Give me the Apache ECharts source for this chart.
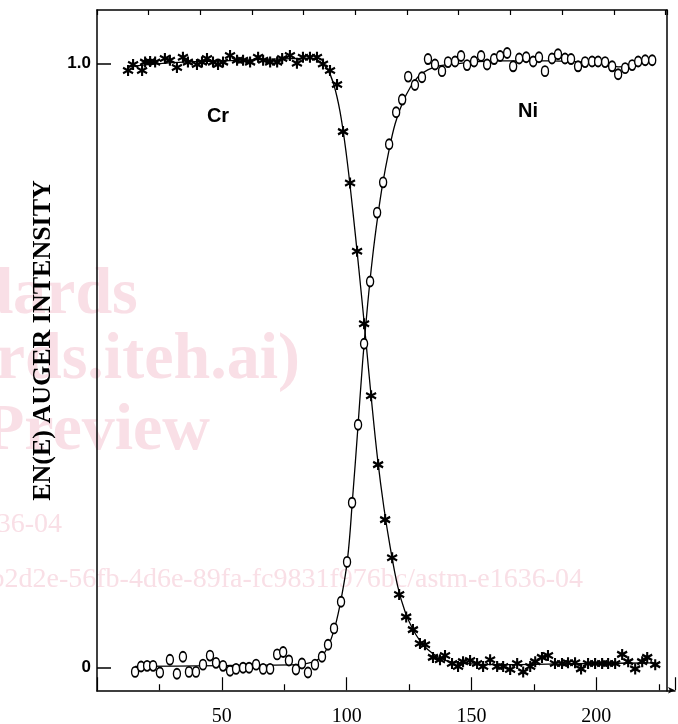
<!DOCTYPE html>
<html>
<head>
<meta charset="utf-8">
<script src="https://cdn.jsdelivr.net/npm/echarts@6/dist/echarts.min.js"></script>
<style>html,body{margin:0;padding:0;background:#fff}#c{width:678px;height:724px}</style>
</head>
<body>
<div id="c"></div>
<script>
// ---- data ----
var crX = [12.4,14.4,18.0,19.2,21.2,23.2,27.1,29.1,31.9,34.3,36.3,39.9,41.9,43.9,46.3,48.3,50.3,53.1,55.9,58.3,61.1,64.3,66.3,69.1,71.9,73.9,77.0,79.8,82.2,85.0,87.8,
  90.2,93.0,95.8,98.2,101.0,103.8,106.6,109.4,112.2,115.0,117.8,120.6,123.4,126.1,128.9,130.9,134.1,136.9,138.9,141.7,144.1,146.1,148.9,151.7,154.1,
  156.9,159.7,162.1,164.9,167.7,170.1,172.9,174.9,177.6,180.0,182.8,185.6,188.0,190.8,193.2,196.0,198.8,201.6,204.0,206.8,209.6,212.0,214.8,217.6,219.6,222.8];
var crY = [0.988,0.998,0.988,1.002,1.003,1.002,1.008,1.005,0.993,1.010,1.002,0.998,1.002,1.008,1.002,0.998,1.002,1.013,1.005,1.005,1.002,1.010,1.005,1.002,1.002,1.008,1.013,1.000,1.010,1.010,1.010,
  0.999,0.988,0.965,0.887,0.802,0.689,0.569,0.450,0.336,0.245,0.182,0.121,0.084,0.063,0.040,0.038,0.017,0.013,0.020,0.007,0.002,0.010,0.012,0.007,0.002,
  0.013,0.002,0.002,-0.003,0.007,-0.007,0.002,0.010,0.017,0.020,0.007,0.007,0.008,0.008,-0.002,0.007,0.007,0.007,0.007,0.007,0.022,0.010,-0.002,0.010,0.017,0.005];
var niX = [15.2,17.6,20.0,22.4,25.1,29.1,31.9,34.3,36.7,39.5,42.3,45.1,47.5,50.3,53.1,55.5,58.3,60.7,63.5,66.3,69.1,71.9,74.3,76.6,79.4,81.8,84.2,87.0,89.8,92.2,
  94.6,97.4,99.8,101.8,104.2,106.6,109.0,111.8,114.2,116.6,119.4,121.8,124.2,126.9,129.7,132.1,134.9,137.7,140.1,142.9,145.3,147.7,150.5,153.3,155.7,
  158.5,160.9,163.7,166.1,168.5,171.3,174.1,176.4,178.8,181.6,184.0,186.8,189.2,192.0,194.8,197.6,200.0,202.8,205.6,208.0,210.8,213.6,216.0,218.8,221.6];
var niY = [-0.007,0.002,0.003,0.003,-0.008,0.013,-0.010,0.018,-0.007,-0.007,0.005,0.020,0.008,0.003,-0.005,-0.002,0.000,0.000,0.005,-0.002,-0.002,0.022,0.026,0.012,-0.003,0.007,-0.008,0.005,0.018,0.038,
  0.065,0.109,0.175,0.273,0.402,0.536,0.639,0.753,0.803,0.866,0.919,0.940,0.978,0.964,0.977,1.007,0.998,0.987,1.002,1.003,1.012,0.997,1.003,1.012,0.998,
  1.007,1.012,1.017,0.995,1.008,1.010,1.003,1.010,0.987,1.008,1.015,1.008,1.007,0.995,1.002,1.003,1.003,1.002,0.995,0.982,0.992,0.997,1.003,1.005,1.005];
// fitted curves
var crFitX = [12.4,30,50,70,85,89,92,94.5,97,99.5,102,104.5,107,109.5,112,114.5,117,120,123,126,129,132,136,140,146,160,180,200,222.8];
var crFitY = [0.994,1.001,1.004,1.007,1.008,1.003,0.990,0.965,0.920,0.850,0.760,0.660,0.555,0.445,0.345,0.265,0.200,0.135,0.092,0.064,0.044,0.030,0.018,0.011,0.007,0.005,0.006,0.007,0.008];
var niFitX = [15.2,40,60,80,86,89,92,95,97.5,100,102,104,106,108,110,112,114,116.5,119,122,125,128,132,137,145,160,180,195,203,208,213,221.6];
var niFitY = [0.002,0.003,0.004,0.005,0.009,0.016,0.033,0.068,0.115,0.180,0.280,0.390,0.505,0.600,0.680,0.745,0.800,0.855,0.900,0.935,0.960,0.977,0.989,0.996,1.000,1.004,1.004,1.002,1.000,0.994,0.996,1.005];
var xTicks = [50,100,150,200];
var yTickValues = [0,1];
var yTickLabels = ['0','1.0'];
var yTitle = 'EN(E) AUGER INTENSITY';
var labels = [{t:'Cr', x:48.3, y:0.912}, {t:'Ni', x:172.0, y:0.920}];

function zip(a,b){var r=[];for(var i=0;i<a.length;i++)r.push([a[i],b[i]]);return r;}

var STAR = 'path://M5,0L5,10M0.7,2.5L9.3,7.5M0.7,7.5L9.3,2.5';
var OVAL = 'path://M3,0C4.7,0,6,2,6,5C6,8,4.7,10,3,10C1.3,10,0,8,0,5C0,2,1.3,0,3,0Z';
var pink = '#f9dfe6';

var chart = echarts.init(document.getElementById('c'), null, {renderer:'canvas'});
chart.setOption({
  animation:false,
  backgroundColor:'#fff',
  grid:[{left:97,right:11,top:10,bottom:33},{left:97,right:1,top:690,bottom:33}],
  xAxis:[
    {gridIndex:0,type:'value',min:0,max:227.5,show:false,splitLine:{show:false}},
    {gridIndex:0,type:'value',position:'top',min:0,max:11.03,interval:1,
     axisLine:{show:true,onZero:false,lineStyle:{color:'#000',width:1.5}},
     axisTick:{show:true,inside:true,length:5,lineStyle:{color:'#000',width:1.2}},
     axisLabel:{show:false},splitLine:{show:false}},
    {gridIndex:1,type:'value',position:'bottom',min:0,max:231.5,interval:50,
     axisLine:{show:true,onZero:false,symbol:['none','arrow'],symbolSize:[5,7],lineStyle:{color:'#000',width:1.5}},
     axisTick:{show:true,inside:true,length:13,lineStyle:{color:'#000',width:1.2}},
     minorTick:{show:true,splitNumber:2,length:6,lineStyle:{color:'#000',width:1.2}},
     axisLabel:{show:true,margin:16,fontFamily:'Liberation Serif',fontSize:20,color:'#000',
       formatter:function(v){return xTicks.indexOf(v)>=0?String(v):'';}},
     splitLine:{show:false}}
  ],
  yAxis:[
    {gridIndex:0,type:'value',min:-0.0386,max:1.0882,
     name:yTitle,nameLocation:'middle',nameRotate:90,nameGap:36,
     nameTextStyle:{fontFamily:'Liberation Serif',fontWeight:'bold',fontSize:26,color:'#000',padding:[0,0,0,20]},
     axisLine:{show:true,onZero:false,lineStyle:{color:'#000',width:1.5}},
     axisTick:{show:true,inside:true,length:14,customValues:yTickValues,lineStyle:{color:'#000',width:1.5}},
     axisLabel:{show:true,customValues:yTickValues,margin:6,fontFamily:'Liberation Sans',fontWeight:'bold',fontSize:17,color:'#000',
       formatter:function(v){var i=yTickValues.indexOf(Math.round(v*1000)/1000);return i>=0?yTickLabels[i]:'';}},
     splitLine:{show:false}},
    {gridIndex:0,type:'value',position:'right',min:-0.0386,max:1.0882,
     axisLine:{show:true,onZero:false,lineStyle:{color:'#000',width:1.5}},
     axisTick:{show:false},axisLabel:{show:false},splitLine:{show:false}},
    {gridIndex:1,type:'value',show:false}
  ],
  graphic:[
    {type:'text',left:-152,top:263,z:-10,style:{text:'Standards',fill:pink,font:'bold 66px "Liberation Serif"'}},
    {type:'text',right:378,top:328,z:-10,style:{text:'(https://standards.iteh.ai)',fill:pink,font:'bold 66px "Liberation Serif"'}},
    {type:'text',right:468,top:399,z:-10,style:{text:'Document Preview',fill:pink,font:'bold 66px "Liberation Serif"'}},
    {type:'text',right:616,top:511,z:-10,style:{text:'ASTM E1636-04',fill:pink,font:'28px "Liberation Serif"'}},
    {type:'text',right:95,top:566,z:-10,style:{text:'https://standards.iteh.ai/catalog/standards/sist/4c1b2d2e-56fb-4d6e-89fa-fc9831f976bc/astm-e1636-04',fill:pink,font:'28px "Liberation Serif"'}}
  ],
  series:[
    {type:'line',xAxisIndex:0,yAxisIndex:0,data:zip(crFitX,crFitY),smooth:0.4,showSymbol:false,
     lineStyle:{color:'#000',width:1.3},z:2,silent:true},
    {type:'line',xAxisIndex:0,yAxisIndex:0,data:zip(niFitX,niFitY),smooth:0.4,showSymbol:false,
     lineStyle:{color:'#000',width:1.3},z:2,silent:true},
    {type:'scatter',xAxisIndex:0,yAxisIndex:0,data:zip(crX,crY),symbol:STAR,symbolSize:[10,11],
     itemStyle:{color:'#000',borderColor:'#000',borderWidth:2.2,opacity:1},z:3,
     markPoint:{symbol:'rect',symbolSize:1,itemStyle:{color:'transparent'},
       label:{show:true,color:'#000',fontFamily:'Liberation Sans',fontWeight:'bold',fontSize:20,
         formatter:function(p){return p.name;}},
       data:labels.map(function(l){return {name:l.t,coord:[l.x,l.y]};})}},
    {type:'scatter',xAxisIndex:0,yAxisIndex:0,data:zip(niX,niY),symbol:OVAL,symbolSize:[7,10],
     itemStyle:{color:'#fff',borderColor:'#000',borderWidth:1.6,opacity:1},z:4}
  ]
});
</script>
</body>
</html>
